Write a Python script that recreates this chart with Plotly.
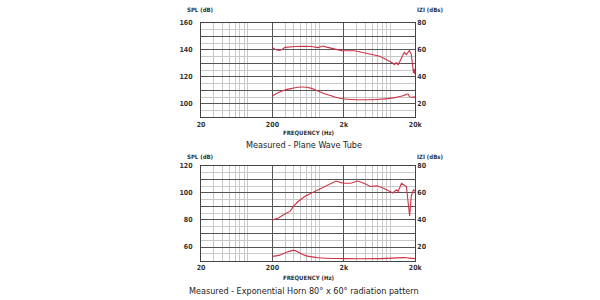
import numpy as np
import plotly.graph_objects as go

# ---------------- data ----------------
# Top chart: Plane Wave Tube
pw_spl_freq = [200, 220, 245, 270, 300, 350, 420, 550, 700, 870, 950, 1020, 1150, 1350, 1600,
               1850, 2200, 2800, 3300, 3800, 4700, 5500, 6500, 7500, 8800, 9500, 10200, 10800,
               11500, 12200, 13000, 14000, 15000, 15800, 16500, 17500, 18300, 18900, 19300, 19700, 20000]
pw_spl = [141.5, 140.2, 139.6, 140.0, 141.8, 142.3, 142.5, 142.6, 142.4, 141.6, 142.2, 142.8, 142.0,
          141.0, 140.0, 139.4, 139.3, 139.3, 138.6, 138.0, 137.0, 136.0, 135.0, 133.5, 131.6, 130.5,
          129.0, 130.5, 129.0, 131.5, 134.0, 138.0, 136.5, 138.5, 139.5, 137.0, 130.0, 123.0, 126.0,
          122.0, 125.0]
pw_z_freq = [200, 273, 374, 514, 705, 966, 1327, 1820, 2500, 5810, 9840, 13520, 15800, 16650, 20000]
pw_z = [26.0, 29.6, 31.5, 32.5, 31.5, 28.4, 26.0, 24.0, 23.3, 23.3, 24.5, 26.0, 27.3, 25.2, 25.2]

# Bottom chart: Exponential Horn
eh_spl_freq = [200, 245, 303, 355, 395, 462, 572, 705, 870, 1076, 1327, 1553, 1820, 2024, 2500,
               3085, 3810, 4700, 5810, 7180, 8850, 9640, 10930, 11530, 12800, 14200, 15000,
               16650, 17570, 18900, 20000]
eh_spl = [80.0, 81.7, 84.6, 86.5, 90.2, 93.8, 97.5, 99.9, 102.3, 104.7, 107.6, 108.8, 107.6, 107.1,
          107.1, 108.8, 107.1, 104.7, 105.2, 103.5, 101.1, 99.9, 102.3, 101.0, 107.1, 105.9, 104.7,
          82.9, 97.7, 102.3, 101.1]
eh_z_freq = [200, 245, 303, 395, 462, 572, 870, 2024, 5810, 15000, 16650, 20000]
eh_z = [13.1, 13.8, 15.8, 17.5, 16.2, 13.8, 12.1, 11.4, 11.4, 12.1, 11.8, 11.4]

x_ticks = [20, 200, 2000, 20000]
x_ticktext = ["20", "200", "2k", "20k"]
top_left_ticks = [100, 110, 120, 130, 140, 150, 160]
bot_left_ticks = [60, 70, 80, 90, 100, 110, 120]
right_ticks = [20, 40, 60, 80]

captions = ["Measured - Plane Wave Tube", "Measured - Exponential Horn 80° x 60° radiation pattern"]

# ---------------- styling ----------------
RED = "#cc3446"
DARK = "#555555"
LIGHT = "#c8c8c8"
FONT = "Liberation Sans Narrow, DejaVu Sans Condensed, Arial Narrow, sans-serif"
W, H = 600, 300

x0, x1 = 200.7 / W, 419.0 / W
top_dom = [1 - 115.0 / H, 1 - 19.0 / H]
bot_dom = [1 - 260.0 / H, 1 - 164.0 / H]

minor_x = [m * 10 ** d for d in range(1, 4) for m in range(2, 10)]

def lbl(ticks):
    return [str(t) if (t % 20 == 0) else "" for t in ticks]

fig = go.Figure()
fig.add_trace(go.Scatter(x=pw_spl_freq, y=pw_spl, mode="lines", line=dict(color=RED, width=1.1),
                         xaxis="x", yaxis="y", showlegend=False))
fig.add_trace(go.Scatter(x=pw_z_freq, y=pw_z, mode="lines", line=dict(color=RED, width=1.1, shape="spline"),
                         xaxis="x", yaxis="y2", showlegend=False))
fig.add_trace(go.Scatter(x=eh_spl_freq, y=eh_spl, mode="lines", line=dict(color=RED, width=1.1),
                         xaxis="x2", yaxis="y3", showlegend=False))
fig.add_trace(go.Scatter(x=eh_z_freq, y=eh_z, mode="lines", line=dict(color=RED, width=1.1, shape="spline"),
                         xaxis="x2", yaxis="y4", showlegend=False))

tickfont = dict(family=FONT, size=7, color="#333", weight="bold")

def xaxis(anchor):
    return dict(type="log", domain=[x0, x1], anchor=anchor,
                range=[np.log10(20), np.log10(20000)],
                tickmode="array", tickvals=x_ticks, ticktext=x_ticktext,
                showgrid=True, gridcolor=DARK, gridwidth=1,
                minor=dict(tickmode="array", tickvals=minor_x, showgrid=True, gridcolor=LIGHT, gridwidth=1),
                showline=True, linecolor="#444", linewidth=1, mirror=True,
                ticks="", tickfont=tickfont, zeroline=False)

def yleft(dom, rng, ticks):
    minor_y = [t + 5 for t in ticks[:-1]] + [ticks[0] - 5]
    return dict(domain=dom, range=rng, anchor="x" if dom == top_dom else "x2",
                tickmode="array", tickvals=ticks, ticktext=lbl(ticks),
                showgrid=True, gridcolor=DARK, gridwidth=1,
                minor=dict(tickmode="array", tickvals=minor_y, showgrid=True, gridcolor=LIGHT, gridwidth=1),
                showline=True, linecolor="#444", linewidth=1, mirror=True,
                ticks="", ticklabelstandoff=6, tickfont=tickfont, zeroline=False)

def yright(over, anchor):
    return dict(overlaying=over, side="right", anchor=anchor, range=[10, 80],
                tickmode="array", tickvals=right_ticks, showgrid=False,
                showline=False, ticks="", ticklabelstandoff=1, tickfont=tickfont, zeroline=False)

fig.update_layout(
    width=W, height=H, margin=dict(l=0, r=0, t=0, b=0),
    paper_bgcolor="white", plot_bgcolor="white",
    xaxis=xaxis("y"), xaxis2=xaxis("y3"),
    yaxis=yleft(top_dom, [90, 160], top_left_ticks),
    yaxis2=yright("y", "x"),
    yaxis3=yleft(bot_dom, [50, 120], bot_left_ticks),
    yaxis4=yright("y3", "x2"),
)

small = dict(family=FONT, size=6, color="#333", weight="bold")
cap = dict(family=FONT, size=9, color="#222")
annots = []
for ytop, ybot, ycap, text in [(6, 130, 143, captions[0]), (155, 277, 291, captions[1])]:
    annots.append(dict(x=184 / W, y=1 - ytop / H, text="SPL (dB)", showarrow=False, xref="paper", yref="paper",
                       xanchor="left", yanchor="middle", font=small))
    annots.append(dict(x=419 / W, y=1 - ytop / H, text="IZI (dBs)", showarrow=False, xref="paper", yref="paper",
                       xanchor="left", yanchor="middle", font=small))
    annots.append(dict(x=310 / W, y=1 - ybot / H, text="FREQUENCY (Hz)", showarrow=False, xref="paper", yref="paper",
                       xanchor="center", yanchor="middle", font=small))
    annots.append(dict(x=306 / W, y=1 - ycap / H, text=text, showarrow=False, xref="paper", yref="paper",
                       xanchor="center", yanchor="middle", font=cap))
fig.update_layout(annotations=annots)

fig.write_html("out.html")
